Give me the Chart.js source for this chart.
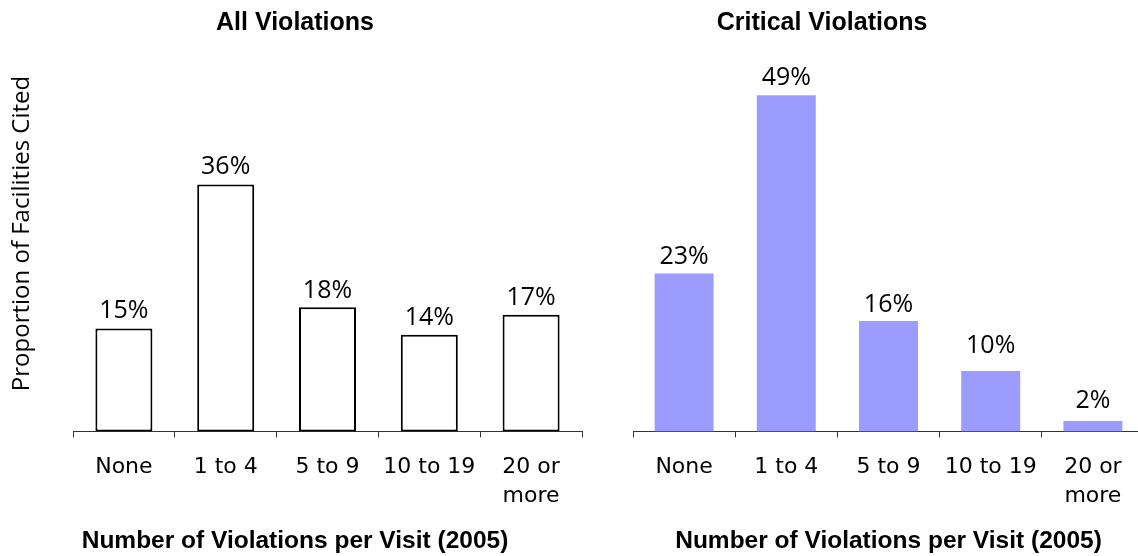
<!DOCTYPE html>
<html>
<head>
<meta charset="utf-8">
<script src="https://cdn.jsdelivr.net/npm/chart.js@4.4.1/dist/chart.umd.min.js"></script>
<style>
  html, body { margin: 0; padding: 0; background: #ffffff; }
  #wrap { position: relative; width: 1138px; height: 556px; overflow: hidden; background: #ffffff; }
  #leftChart { position: absolute; left: 0; top: 0; }
  #rightChart { position: absolute; left: 500px; top: 0; }
</style>
</head>
<body>
<div id="wrap">
  <canvas id="leftChart" width="598" height="556"></canvas>
  <canvas id="rightChart" width="646" height="556"></canvas>
</div>
<script>
// ---- data ----
const categories = ['None', '1 to 4', '5 to 9', '10 to 19', ['20 or', 'more']];
const allViolations = [15, 36, 18.1, 14.1, 17];
const allViolationLabels = ['15%', '36%', '18%', '14%', '17%'];
const criticalViolations = [23, 49, 16.1, 8.8, 1.5];
const criticalViolationLabels = ['23%', '49%', '16%', '10%', '2%'];
const leftTitle = 'All Violations';
const rightTitle = 'Critical Violations';
const xAxisTitle = 'Number of Violations per Visit (2005)';
const yAxisTitle = 'Proportion of Facilities Cited';

Chart.defaults.color = '#000000';
Chart.defaults.animation = false;

const Y_MAX = 57.7;

function valueLabelPlugin(texts) {
  return {
    id: 'valueLabels',
    afterDatasetsDraw(chart) {
      const ctx = chart.ctx;
      const meta = chart.getDatasetMeta(0);
      const yScale = chart.scales.y;
      ctx.save();
      ctx.font = '25px "Open Sans"';
      ctx.fillStyle = '#000000';
      ctx.textAlign = 'center';
      ctx.textBaseline = 'alphabetic';
      meta.data.forEach((bar, i) => {
        const t = texts[i];
        const y = yScale.getPixelForValue(parseFloat(t)) - 10;
        ctx.fillText(t, bar.x, y);
      });
      ctx.restore();
    }
  };
}

function xScaleOptions(withTitle) {
  return {
    type: 'category',
    offset: true,
    grid: {
      display: true,
      drawOnChartArea: false,
      drawTicks: true,
      tickLength: 6,
      offset: true,
      color: '#333333',
      lineWidth: 1
    },
    border: { display: true, color: '#333333', width: 1 },
    ticks: {
      font: { family: '"DejaVu Sans"', size: 22, lineHeight: 1.3 },
      color: '#000000',
      padding: 16,
      maxRotation: 0,
      minRotation: 0,
      autoSkip: false
    },
    title: {
      display: withTitle,
      text: xAxisTitle,
      font: { family: '"Liberation Sans"', size: 24.5, weight: 'bold', lineHeight: 1.2 },
      color: '#000000',
      padding: { top: 0, bottom: 0 }
    }
  };
}

// ---- left chart ----
new Chart(document.getElementById('leftChart'), {
  type: 'bar',
  data: {
    labels: categories,
    datasets: [{
      data: allViolations,
      backgroundColor: '#ffffff',
      borderColor: '#000000',
      borderWidth: 2,
      borderSkipped: false,
      barPercentage: 0.56,
      categoryPercentage: 1.0
    }]
  },
  options: {
    responsive: false,
    animation: false,
    layout: { padding: { left: 8, right: 16, top: 0, bottom: 0 } },
    plugins: {
      legend: { display: false },
      tooltip: { enabled: false },
      title: {
        display: true,
        text: leftTitle,
        font: { family: '"Liberation Sans"', size: 25, weight: 'bold', lineHeight: 1.0 },
        color: '#000000',
        padding: { top: 10.5, bottom: 0 }
      },
      subtitle: {
        display: true,
        position: 'bottom',
        text: xAxisTitle,
        font: { family: '"Liberation Sans"', size: 24.5, weight: 'bold', lineHeight: 1.2 },
        color: '#000000',
        padding: { top: 0, bottom: 0 }
      }
    },
    scales: {
      x: xScaleOptions(false),
      y: {
        min: 0,
        max: Y_MAX,
        display: true,
        grid: { display: false, drawTicks: false },
        border: { display: false },
        ticks: { display: false },
        title: {
          display: true,
          text: yAxisTitle,
          font: { family: '"Open Sans"', size: 24, lineHeight: 1.0 },
          color: '#000000',
          padding: { top: 2, bottom: 0 }
        },
        afterFit(scale) { scale.width = 65; }
      }
    }
  },
  plugins: [valueLabelPlugin(allViolationLabels)]
});

// ---- right chart ----
new Chart(document.getElementById('rightChart'), {
  type: 'bar',
  data: {
    labels: categories,
    datasets: [{
      data: criticalViolations,
      backgroundColor: '#9c9cff',
      borderWidth: 0,
      barPercentage: 0.577,
      categoryPercentage: 1.0
    }]
  },
  options: {
    responsive: false,
    animation: false,
    layout: { padding: { left: 0, right: 2, top: 0, bottom: 0 } },
    plugins: {
      legend: { display: false },
      tooltip: { enabled: false },
      title: {
        display: true,
        text: rightTitle,
        font: { family: '"Liberation Sans"', size: 25, weight: 'bold', lineHeight: 1.0 },
        color: '#000000',
        padding: { top: 10.5, bottom: 0 }
      }
    },
    scales: {
      x: xScaleOptions(true),
      y: {
        min: 0,
        max: Y_MAX,
        display: true,
        grid: { display: false, drawTicks: false },
        border: { display: false },
        ticks: { display: false },
        title: { display: false },
        afterFit(scale) { scale.width = 133; }
      }
    }
  },
  plugins: [valueLabelPlugin(criticalViolationLabels)]
});
</script>
</body>
</html>
